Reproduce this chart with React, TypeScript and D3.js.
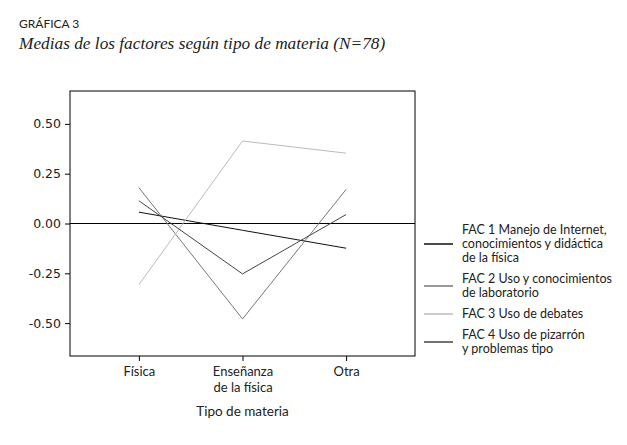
import React, { useRef, useEffect } from "react";
import * as d3 from "d3";

const categories = ["Física", "Enseñanza de la física", "Otra"];
const categoryLines = [["Física"], ["Enseñanza", "de la física"], ["Otra"]];
const yTicks = [-0.5, -0.25, 0, 0.25, 0.5];

const fac1 = [0.057, -0.034, -0.124];
const fac2 = [0.18, -0.479, 0.171];
const fac3 = [-0.307, 0.414, 0.353];
const fac4 = [0.114, -0.253, 0.045];

const seriesNames = [
  ["FAC 1 Manejo de Internet,", "conocimientos y didáctica", "de la física"],
  ["FAC 2 Uso y conocimientos", "de laboratorio"],
  ["FAC 3 Uso de debates"],
  ["FAC 4 Uso de pizarrón", "y problemas tipo"],
];
const seriesColors = ["#111", "#777", "#bbb", "#444"];

const W = 627;
const H = 445;
const frame = { left: 70, top: 91, right: 415, bottom: 356 };

export default function App() {
  const ref = useRef<SVGSVGElement>(null);

  useEffect(() => {
    const svg = d3.select(ref.current);
    svg.selectAll("*").remove();

    const x = d3
      .scalePoint<string>()
      .domain(categories)
      .range([frame.left, frame.right])
      .padding(0.665);
    const y = d3.scaleLinear().domain([-0.665, 0.665]).range([frame.bottom, frame.top]);

    // heading
    svg.append("text").attr("x", 19).attr("y", 28)
      .style("font-family", "Lato, 'Open Sans', sans-serif").style("font-size", "12px")
      .attr("fill", "#222").text("GRÁFICA 3");
    svg.append("text").attr("x", 19).attr("y", 49)
      .style("font-family", "'Liberation Serif', serif").style("font-style", "italic")
      .style("font-size", "17.3px").attr("fill", "#222")
      .text("Medias de los factores según tipo de materia (N=78)");

    // frame
    svg.append("rect")
      .attr("x", frame.left).attr("y", frame.top)
      .attr("width", frame.right - frame.left).attr("height", frame.bottom - frame.top)
      .attr("fill", "none").attr("stroke", "#000").attr("stroke-width", 1);

    // y axis
    const fmt = d3.format(".2f");
    const yAxis = svg.append("g").attr("transform", `translate(${frame.left},0)`)
      .call(d3.axisLeft(y).tickValues(yTicks).tickSize(5)
        .tickFormat((d) => fmt(d as number).replace("−", "-")));
    yAxis.select(".domain").remove();
    yAxis.selectAll("text").style("font-family", "'DejaVu Sans', sans-serif")
      .style("font-size", "12.5px").attr("fill", "#222").attr("dx", "-1");

    // x axis
    const xAxis = svg.append("g").attr("transform", `translate(0,${frame.bottom})`)
      .call(d3.axisBottom(x).tickSize(5).tickFormat(() => ""));
    xAxis.select(".domain").remove();
    xAxis.selectAll<SVGGElement, string>(".tick").each(function (d, i) {
      const t = d3.select(this).select("text").attr("y", 0).attr("dy", null);
      t.selectAll("tspan").data(categoryLines[i]).join("tspan")
        .attr("x", 0).attr("y", (_, j) => 20 + j * 16).text((s) => s);
    });
    xAxis.selectAll("text").style("font-family", "Lato, 'Open Sans', sans-serif")
      .style("font-size", "13px").attr("fill", "#222");

    svg.append("text").attr("x", x("Enseñanza de la física")!).attr("y", 416)
      .attr("text-anchor", "middle")
      .style("font-family", "Lato, 'Open Sans', sans-serif").style("font-size", "13.5px")
      .attr("fill", "#222").text("Tipo de materia");

    // zero line
    svg.append("line").attr("x1", frame.left).attr("x2", frame.right)
      .attr("y1", y(0)).attr("y2", y(0)).attr("stroke", "#000").attr("stroke-width", 1);

    // series
    const series = [fac1, fac2, fac3, fac4];
    const line = d3.line<number>().x((_, i) => x(categories[i])!).y((v) => y(v));
    series.forEach((s, i) => {
      svg.append("path").datum(s).attr("d", line).attr("fill", "none")
        .attr("stroke", seriesColors[i]).attr("stroke-width", 1);
    });

    // legend
    const lineH = 14;
    const legendTop = 230;
    const gap = 7;
    let yy = legendTop;
    const lg = svg.append("g").style("font-family", "Lato, 'Open Sans', sans-serif")
      .style("font-size", "12.5px");
    seriesNames.forEach((names, i) => {
      const mid = yy + ((names.length - 1) * lineH) / 2;
      lg.append("line").attr("x1", 424).attr("x2", 453).attr("y1", mid).attr("y2", mid)
        .attr("stroke", seriesColors[i]).attr("stroke-width", 1.5);
      const t = lg.append("text").attr("fill", "#222");
      names.forEach((n, j) => {
        t.append("tspan").attr("x", 462).attr("y", yy + j * lineH).attr("dy", "0.35em").text(n);
      });
      yy += names.length * lineH + gap;
    });
  }, []);

  return <svg ref={ref} width={W} height={H} style={{ display: "block", margin: "-8px" }} />;
}
